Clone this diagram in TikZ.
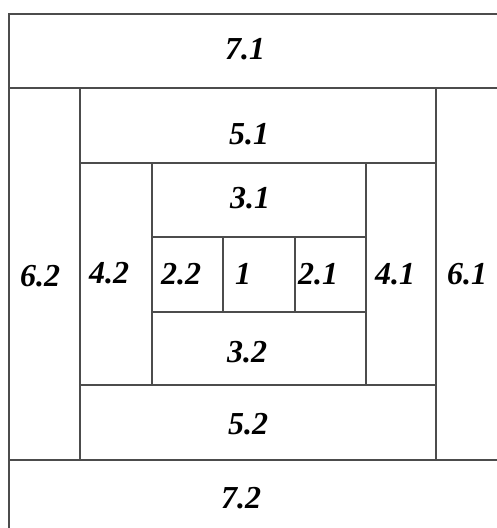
\documentclass[tikz,border=0pt]{standalone}
\usepackage{fontspec}
\setmainfont{Liberation Serif}
\usepackage{tikz}
\usetikzlibrary{positioning}
\colorlet{frameline}{black!70}
\tikzset{
  cellline/.style={draw=frameline, line width=1.3pt},
  cellnum/.style={font=\fontsize{32}{36}\selectfont\bfseries\itshape, inner sep=0pt}
}

\begin{document}
\begin{tikzpicture}[x=1pt, y=-1pt]
  \useasboundingbox (0,0) rectangle (496,528);
  % outer frame (cropped on the right and bottom)
  \draw[cellline] (9,14) rectangle (500,532);
  % rings from the outside in
  \draw[cellline] (9,88) -- (500,88);
  \draw[cellline] (9,460) -- (500,460);
  \draw[cellline] (80,88) -- (80,460);
  \draw[cellline] (436,88) -- (436,460);
  \draw[cellline] (80,163) rectangle (436,385);
  \draw[cellline] (152,163) -- (152,385);
  \draw[cellline] (366,163) -- (366,385);
  % centre row
  \draw[cellline] (152,237) rectangle (366,312);
  \foreach \x in {223,295}
    \draw[cellline] (\x,237) -- (\x,312);

  % labels
  \node[cellnum] (n71) at (245,49) {7.1};
  \node[cellnum] (n51) at (249,134) {5.1};
  \node[cellnum] (n31) at (250,198) {3.1};
  \node[cellnum] (n62) at (40,276) {6.2};
  \node[cellnum] (n42) at (109,273) {4.2};
  \node[cellnum] (n22) at (181,274) {2.2};
  \node[cellnum] (n1)  at (243,274) {1};
  \node[cellnum] (n21) at (318,274) {2.1};
  \node[cellnum] (n41) at (395,274) {4.1};
  \node[cellnum] (n61) at (467,274) {6.1};
  \node[cellnum] (n32) at (247,352) {3.2};
  \node[cellnum] (n52) at (248,424) {5.2};
  \node[cellnum] (n72) at (241,498) {7.2};
\end{tikzpicture}
\end{document}
